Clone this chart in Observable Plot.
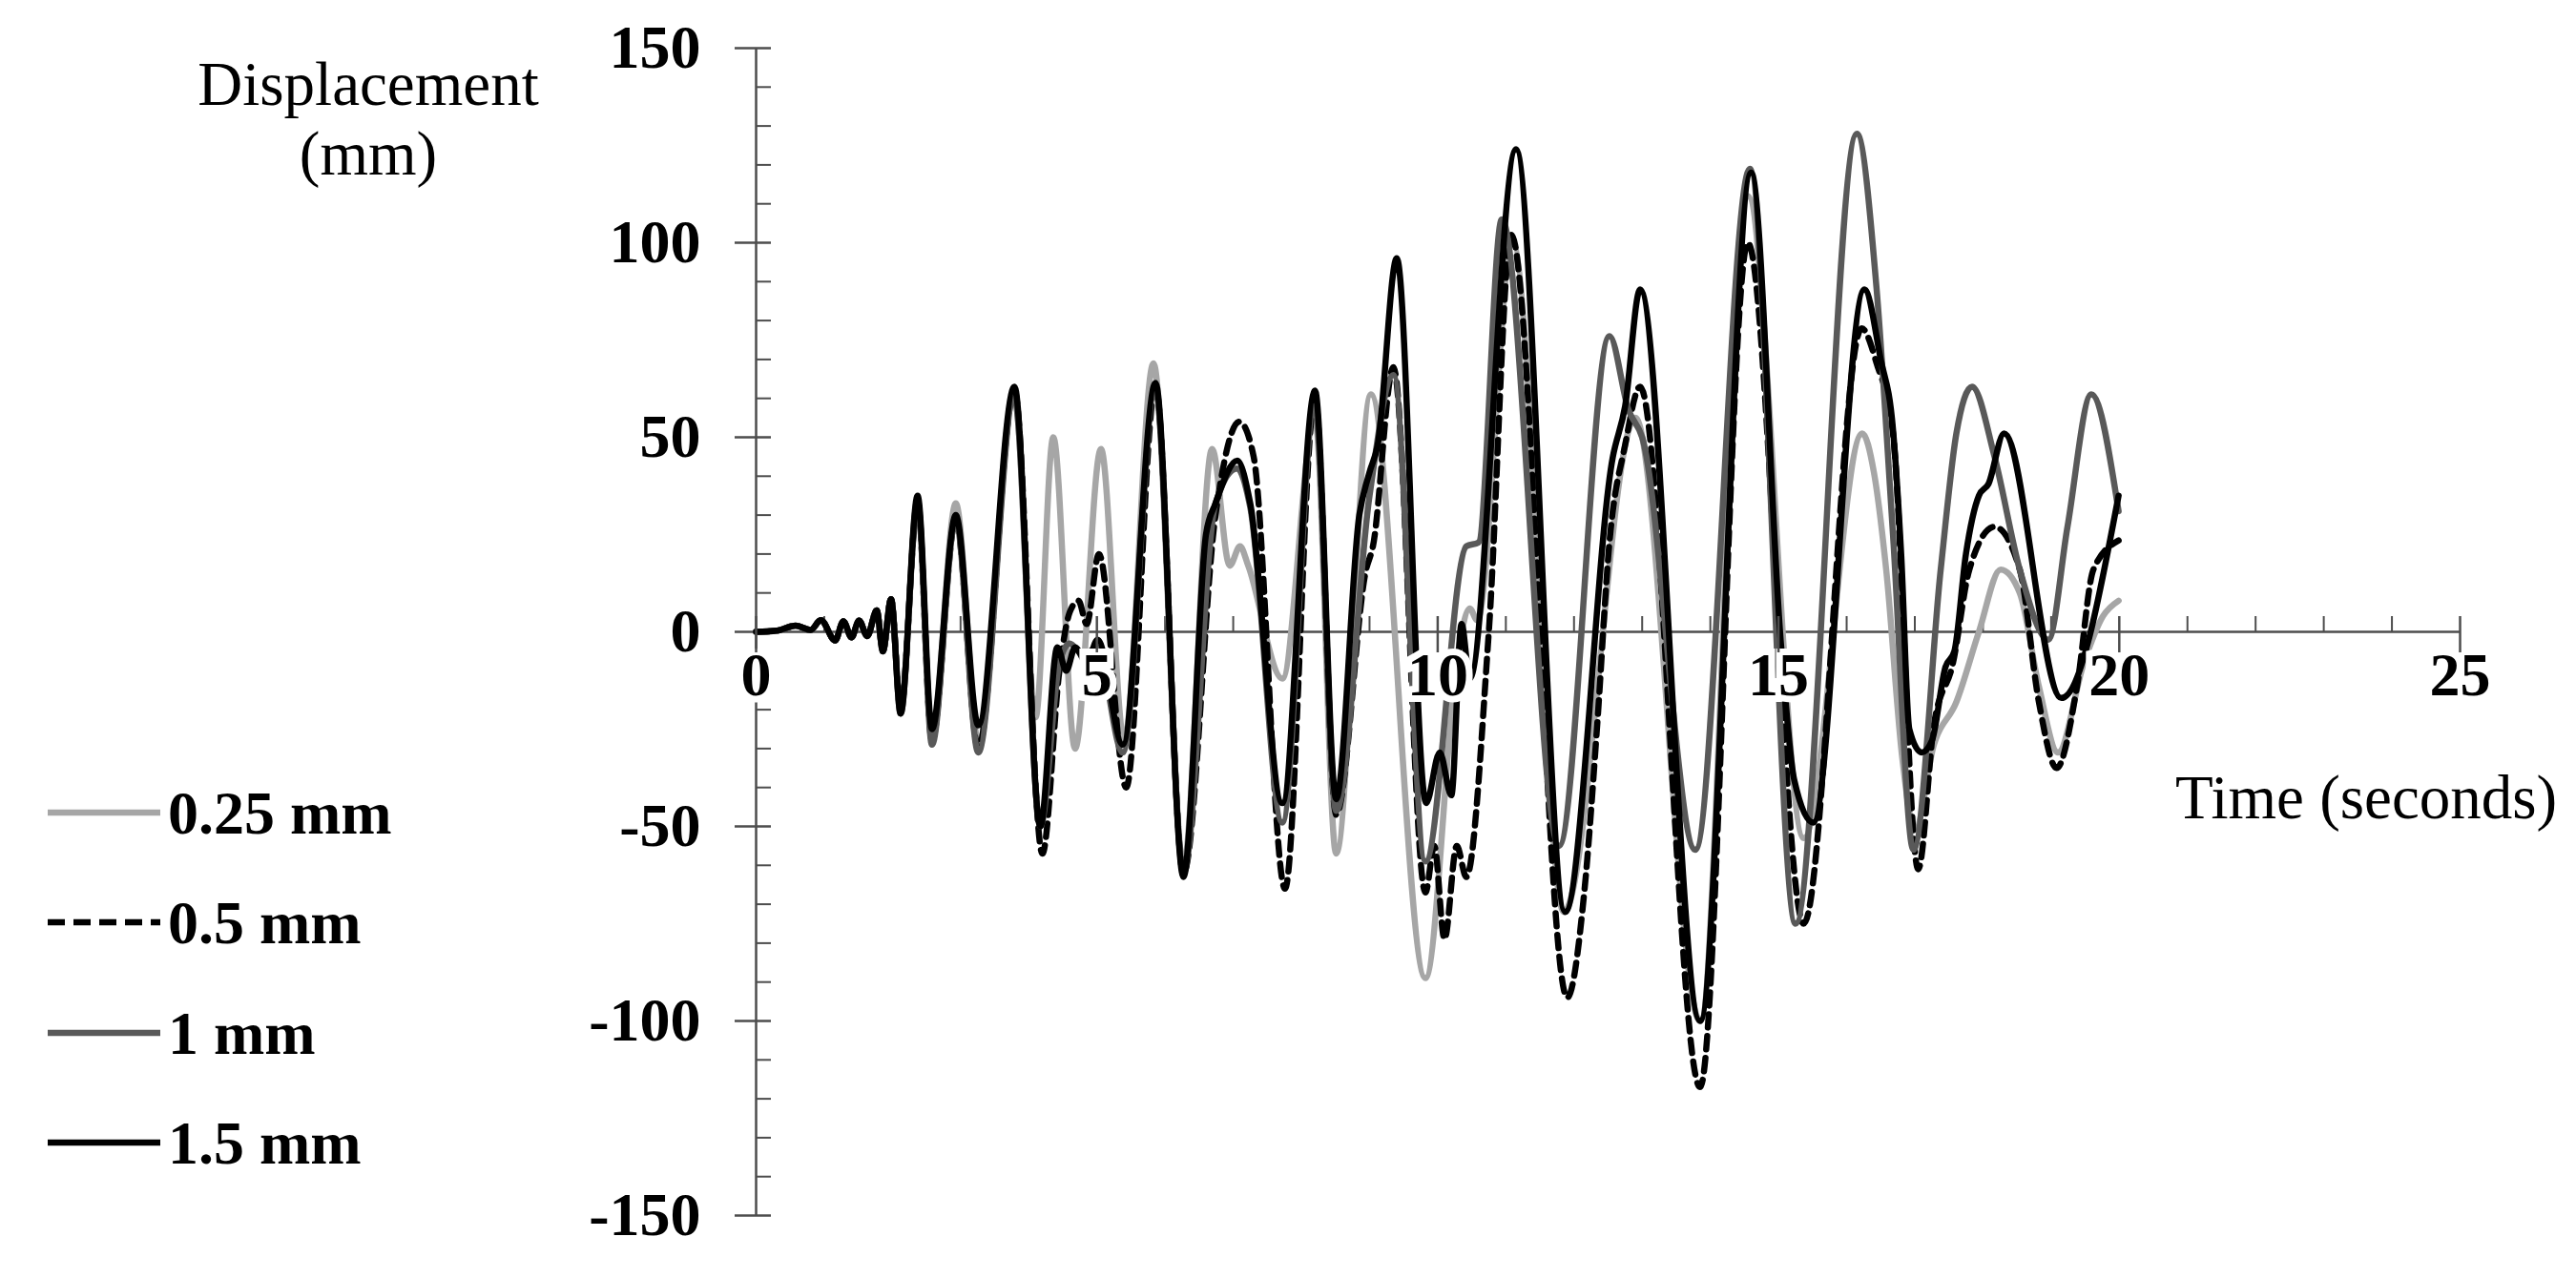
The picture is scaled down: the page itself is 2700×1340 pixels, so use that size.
<!DOCTYPE html>
<html><head><meta charset="utf-8">
<script src="https://cdn.jsdelivr.net/npm/d3@7"></script>
<script src="https://cdn.jsdelivr.net/npm/@observablehq/plot@0.6"></script>
<style>
html,body{margin:0;padding:0;background:#fff;}
#chart{position:relative;width:2700px;height:1340px;}
</style></head><body><div id="chart"></div>
<script>
// ---- series definitions ----
const seriesNames  = ["0.25 mm", "0.5 mm", "1 mm", "1.5 mm"];
const seriesColors = ["#a6a6a6", "#000000", "#595959", "#000000"];
const seriesDash   = [null, "14,9", null, null];

// ---- values (time in s, displacement in mm) ----
const time025 = [0,0.3,0.58,0.8,0.95,1.16,1.28,1.40,1.51,1.63,1.77,1.86,1.98,
  2.12,2.37,2.58,2.93,3.26,3.79,4.1,4.36,4.68,5.06,5.4,5.83,6.27,6.69,6.95,7.1,7.22,7.72,
  8.2,8.51,9.02,9.82,10.3,10.47,10.58,11.1,11.85,12.9,13.85,14.55,15.37,16.23,16.4,16.58,
  16.82,17.0,17.28,17.61,17.94,18.26,18.54,18.82,19.1,19.48,19.76,19.99];
const disp025 = [0,0.3,1.6,0.5,3.0,-2.2,2.7,-1.4,2.9,-1.1,5.5,-5,8.4,
  -20,33,-27,33,-28,61,-22,50,-30,47,-28,69,-60,47,17,22,17,-12,
  55,-57,61,-89,-5,6,3,100,-72,55,-100,112,-53,51,41,16,
  -33,-51,-29,-18,0,16,10,-14,-31,-8,4,8];

const time050 = [0,0.3,0.58,0.8,0.95,1.16,1.28,1.40,1.51,1.63,1.77,1.86,1.98,
  2.12,2.37,2.58,2.93,3.26,3.79,4.2,4.45,4.6,4.73,4.85,5.03,5.43,5.86,6.27,6.74,7.09,7.3,7.76,
  8.2,8.51,8.95,9.05,9.35,9.82,9.95,10.1,10.28,10.42,10.75,11.08,11.9,12.15,12.34,12.52,12.75,12.97,
  13.85,14.55,15.37,16.22,16.44,16.68,17.05,17.28,17.56,17.8,18.17,18.54,18.82,19.08,19.38,19.62,19.99];
const disp050 = [0,0.3,1.6,0.5,3.0,-2.2,2.7,-1.4,2.9,-1.1,5.5,-5,8.4,
  -20,33,-28,29,-30,62,-57,-10,5,8,2,20,-40,63,-62,30,54,45,-66,
  60,-47,16,22,68,-67,-55,-79,-55,-63,0,102,-94,-67,-24,23,48,63,
  -117,100,-75,78,69,51,-61,-24,-8,16,27,16,-18,-35,-14,16,23.5];

const time100 = [0,0.3,0.58,0.8,0.95,1.16,1.28,1.40,1.51,1.63,1.77,1.86,1.98,
  2.12,2.37,2.58,2.93,3.26,3.79,4.17,4.45,4.6,4.8,5.0,5.38,5.86,6.27,6.74,7.06,7.25,7.72,
  8.2,8.51,9.0,9.35,9.82,10.42,10.6,10.94,11.78,12.52,12.8,13.0,13.78,14.58,15.25,16.15,
  16.44,16.68,16.98,17.38,17.61,17.84,18.17,18.54,18.96,19.24,19.59,19.99];
const disp100 = [0,0.3,1.6,0.5,3.0,-2.2,2.7,-1.4,2.9,-1.1,5.5,-5,8.4,
  -21,34,-29,29,-31,60,-50,-8,-3,-6,-4,-31,62,-62,33,42,32,-49,
  58,-46,35,66,-59,22,23,106,-55,76,57,50,-56,119,-75,128,
  88,25,-56,16,51,63,45,16,-2,27,61,31];

const time150 = [0,0.3,0.58,0.8,0.95,1.16,1.28,1.40,1.51,1.63,1.77,1.86,1.98,
  2.12,2.37,2.58,2.93,3.26,3.79,4.17,4.42,4.55,4.68,4.85,5.01,5.38,5.86,6.27,6.6,6.74,7.06,7.25,7.72,
  8.2,8.51,8.85,9.0,9.12,9.40,9.83,10.03,10.2,10.35,10.47,11.15,11.87,12.57,12.75,12.97,
  13.85,14.6,15.04,15.23,15.51,16.26,16.5,16.68,16.8,16.92,17.1,17.25,17.45,17.58,17.75,17.94,18.08,18.31,
  19.15,19.99];
const disp150 = [0,0.3,1.6,0.5,3.0,-2.2,2.7,-1.4,2.9,-1.1,5.5,-5,8.4,
  -21,35,-25,30,-24,63,-50,-4,-10,-4,-8,-2,-29,64,-63,25,33,44,33,-44,
  62,-43,30,41,48,96,-44,-31,-42,2,-12,124,-72,45,58,88,
  -100,118,-4,-38,-49,88,70,52,20,-25,-31,-28,-9,-5,20,35,38,51,
  -17,35];

// ---- axes ----
const xMajorTicks = [0, 5, 10, 15, 20, 25];
const yMajorTicks = [-150, -100, -50, 0, 50, 100, 150];
const xMinorTicks = d3.range(0, 26, 1).filter(d => d % 5 !== 0);
const yMinorTicks = d3.range(-150, 151, 10).filter(d => d % 50 !== 0);
const xLabel = "Time (seconds)";
const yLabelLines = ["Displacement", "(mm)"];

const times = [time025, time050, time100, time150];
const disps = [disp025, disp050, disp100, disp150];
const rows = seriesNames.flatMap((s, i) => times[i].map((t, j) => ({series: s, t, v: disps[i][j]})));

const axisColor = "#4d4d4d";
const font = "'Liberation Serif', 'DejaVu Serif', serif";

const lineMarks = seriesNames.map((s, i) =>
  Plot.line(rows.filter(r => r.series === s), {
    x: "t", y: "v", stroke: seriesColors[i], strokeWidth: 6.5,
    strokeDasharray: seriesDash[i] ?? undefined, curve: "monotone-x"
  }));

const svg = Plot.plot({
  width: 2700, height: 1340,
  marginLeft: 792, marginRight: 122, marginTop: 50, marginBottom: 66,
  x: {domain: [0, 25], axis: null},
  y: {domain: [-150, 150], axis: null},
  style: {background: "white", fontFamily: font, color: "black"},
  marks: [
    Plot.ruleY([0], {x1: 0, x2: 25, stroke: axisColor, strokeWidth: 2.5}),
    Plot.ruleX([0], {y1: -150, y2: 150, stroke: axisColor, strokeWidth: 2.5}),
    Plot.ruleX(xMinorTicks, {x: d => d, y1: 0, y2: 0, insetTop: -16, stroke: axisColor, strokeWidth: 2}),
    Plot.ruleY(yMinorTicks, {y: d => d, x1: 0, x2: 0, insetRight: -16, stroke: axisColor, strokeWidth: 2}),
    Plot.ruleY(yMajorTicks, {y: d => d, x1: 0, x2: 0, insetLeft: -22, insetRight: -16, stroke: axisColor, strokeWidth: 2.5}),
    ...lineMarks,
    Plot.text(yMajorTicks, {x: 0, y: d => d, text: d => String(d), textAnchor: "end", dx: -58,
      fontSize: 64, fontWeight: "bold", fill: "black"}),
    Plot.text(xMajorTicks, {x: d => d, y: 0, text: d => String(d), dy: 46,
      fontSize: 64, fontWeight: "bold", fill: "black", stroke: "white", strokeWidth: 14,
      strokeLinejoin: "miter", paintOrder: "stroke"}),
    Plot.ruleX(xMajorTicks, {x: d => d, y1: 0, y2: 0, insetTop: -16, insetBottom: -22, stroke: axisColor, strokeWidth: 2.5})
  ]
});

// axis titles and legend
const g = d3.select(svg).append("g").attr("font-family", font).attr("text-anchor", "start");
g.append("text").attr("x", 386).attr("y", 110).attr("text-anchor", "middle")
  .attr("font-size", 65).text(yLabelLines[0]);
g.append("text").attr("x", 386).attr("y", 183).attr("text-anchor", "middle")
  .attr("font-size", 65).text(yLabelLines[1]);
g.append("text").attr("x", 2280).attr("y", 858).attr("text-anchor", "start")
  .attr("font-size", 65).text(xLabel);

const legendY = [852, 967, 1083, 1198];
seriesNames.forEach((s, i) => {
  g.append("line").attr("x1", 50).attr("x2", 168).attr("y1", legendY[i]).attr("y2", legendY[i])
    .attr("stroke", seriesColors[i]).attr("stroke-width", 6.5)
    .attr("stroke-dasharray", seriesDash[i] ? "18,9" : null);
  g.append("text").attr("x", 176).attr("y", legendY[i]).attr("dy", "0.35em")
    .attr("text-anchor", "start")
    .attr("font-size", 64).attr("font-weight", "bold").text(s);
});

document.getElementById("chart").appendChild(svg);
</script>
</body></html>
